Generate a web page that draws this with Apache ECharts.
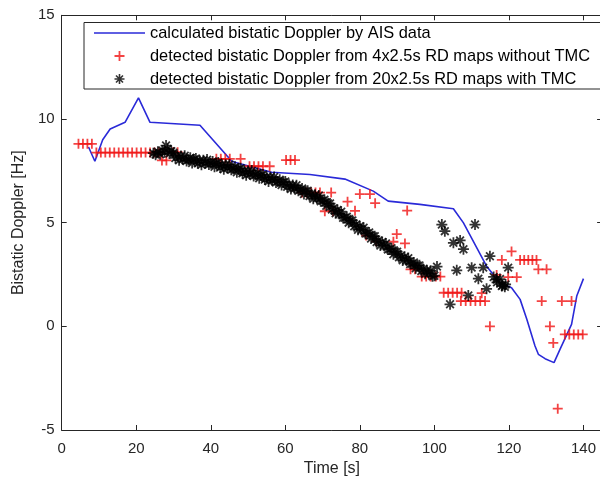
<!DOCTYPE html>
<html>
<head>
<meta charset="utf-8">
<script src="https://cdn.jsdelivr.net/npm/echarts@6/dist/echarts.min.js"></script>
<style>html,body{margin:0;padding:0;background:#fff}#c{width:600px;height:480px}</style>
</head>
<body>
<div id="c"></div>
<script>
// ---- data (time [s], bistatic Doppler [Hz]) ----
var xTicks = [0, 20, 40, 60, 80, 100, 120, 140];
var yTicks = [-5, 0, 5, 10, 15];

var aisLine = [
  [7.2, 8.65], [8.9, 7.96], [11.0, 9.0], [13.0, 9.52], [17.0, 9.84], [20.6, 11.02],
  [23.7, 9.84], [37.1, 9.70], [45.7, 7.95], [56.3, 7.43], [66.6, 7.32], [76.0, 7.1],
  [83.6, 6.52], [87.6, 6.04], [96.1, 5.88], [105.1, 5.67], [107.8, 4.99], [114.0, 2.90],
  [117.6, 2.10], [120.7, 1.86], [123.0, 1.30], [124.8, 0.34], [127.0, -0.95], [127.9, -1.35],
  [129.7, -1.56], [132.1, -1.75], [133.7, -1.11], [136.8, 0.09], [138.2, 1.46], [140.0, 2.30]
];

var redNoTMC = [
  [4.5, 8.8], [5.7, 8.8], [6.9, 8.8], [8.1, 8.8],
  [9.3, 8.38], [10.5, 8.38], [11.7, 8.38], [12.9, 8.38], [14.1, 8.38], [15.3, 8.38],
  [16.5, 8.38], [17.7, 8.38], [18.9, 8.38], [20.1, 8.38], [21.3, 8.38], [22.5, 8.38],
  [23.7, 8.38], [24.9, 8.38], [26.1, 8.38], [29.9, 8.4], [31.1, 8.4],
  [26.9, 8.0], [28.1, 8.0],
  [41.5, 8.08], [42.7, 8.08], [43.9, 8.08], [45.1, 8.08], [48.0, 8.08],
  [50.4, 7.72], [51.6, 7.72], [52.8, 7.72], [54.0, 7.72], [55.8, 7.72],
  [60.2, 8.02], [61.4, 8.02], [62.6, 8.02],
  [64.5, 6.45], [65.7, 6.45], [66.9, 6.45], [68.1, 6.45], [69.3, 6.45], [72.3, 6.45],
  [70.6, 5.55], [72.8, 5.55], [76.7, 6.01], [78.7, 5.57], [80.0, 6.38], [82.7, 6.38],
  [84.1, 5.94], [92.7, 5.58], [81.7, 4.38], [84.4, 4.1],
  [89.9, 4.45], [89.0, 4.08], [92.1, 4.0],
  [93.6, 2.75], [94.8, 2.75], [96.6, 2.40], [97.8, 2.40], [99.0, 2.40], [100.4, 2.40], [101.6, 2.40],
  [102.5, 1.62], [103.7, 1.62], [104.9, 1.62], [106.1, 1.62], [107.3, 1.62], [112.7, 1.6],
  [107.1, 1.22], [108.4, 1.22], [109.7, 1.22], [111.0, 1.22], [112.3, 1.22], [113.6, 1.22],
  [114.9, 0.0], [116.7, 2.48], [118.1, 3.2], [120.7, 3.61],
  [123.0, 3.2], [124.1, 3.2], [125.2, 3.2], [126.3, 3.2], [127.4, 3.2],
  [127.9, 2.75], [130.1, 2.75], [119.8, 2.37], [122.1, 2.37],
  [128.8, 1.22], [134.2, 1.22], [136.8, 1.22], [131.0, 0.0], [131.9, -0.8],
  [135.0, -0.39], [136.2, -0.39], [137.4, -0.39], [138.6, -0.39], [139.8, -0.39],
  [133.1, -3.97]
];

var blackTMC = [
  [24.6, 8.35], [25.2, 8.28], [25.8, 8.42], [26.4, 8.30], [27.0, 8.48], [27.6, 8.40],
  [28.0, 8.72], [28.4, 8.55], [28.9, 8.33], [29.4, 8.45],
  [30, 8.37], [30.5, 8.12], [31, 8.23], [31.5, 8.01], [32, 8.21], [32.5, 8.07], [33, 8.23], [33.5, 7.97],
  [34, 8.03], [34.5, 8.13], [35, 7.88], [35.5, 8.05], [36, 8.09], [36.5, 7.86], [37, 7.99], [37.5, 7.79],
  [38, 8.01], [38.5, 7.88], [39, 8.04], [39.5, 7.80], [40, 7.86], [40.5, 7.95], [41, 7.70], [41.5, 7.86],
  [42, 7.90], [42.5, 7.66], [43, 7.78], [43.5, 7.58], [44, 7.79], [44.5, 7.65], [45, 7.80], [45.5, 7.55],
  [46, 7.60], [46.5, 7.69], [47, 7.43], [47.5, 7.59], [48, 7.62], [48.5, 7.38], [49, 7.49], [49.5, 7.29],
  [50, 7.49], [50.5, 7.35], [51, 7.51], [51.5, 7.25], [52, 7.31], [52.5, 7.39], [53, 7.14], [53.5, 7.29],
  [54, 7.32], [54.5, 7.08], [55, 7.19], [55.5, 6.99], [56, 7.19], [56.5, 7.04], [57, 7.20], [57.5, 6.94],
  [58, 6.99], [58.5, 7.07], [59, 6.81], [59.5, 6.95], [60, 6.98], [60.5, 6.73], [61, 6.83], [61.5, 6.62],
  [62, 6.81], [62.5, 6.66], [63, 6.80], [63.5, 6.54], [64, 6.58], [64.5, 6.65], [65, 6.38], [65.5, 6.52],
  [66, 6.54], [66.5, 6.28], [67, 6.38], [67.5, 6.15], [68, 6.34], [68.5, 6.17], [69, 6.31], [69.5, 6.03],
  [70, 6.06], [70.5, 6.11], [71, 5.81], [71.5, 5.93], [72, 5.92], [72.5, 5.63], [73, 5.70], [73.5, 5.45],
  [74, 5.61], [74.5, 5.42], [75, 5.53], [75.5, 5.23], [76, 5.24], [76.5, 5.29], [77, 5.00], [77.5, 5.11],
  [78, 5.11], [78.5, 4.83], [79, 4.91], [79.5, 4.66], [80, 4.83], [80.5, 4.65], [81, 4.76], [81.5, 4.47],
  [82, 4.48], [82.5, 4.53], [83, 4.23], [83.5, 4.35], [84, 4.34], [84.5, 4.06], [85, 4.14], [85.5, 3.90],
  [86, 4.07], [86.5, 3.89], [87, 4.00], [87.5, 3.71], [88, 3.72], [88.5, 3.77], [89, 3.48], [89.5, 3.60],
  [90, 3.60], [90.5, 3.33], [91, 3.41], [91.5, 3.18], [92, 3.35], [92.5, 3.17], [93, 3.29], [93.5, 3.00],
  [94, 3.02], [94.5, 3.08], [95, 2.80], [95.5, 2.93], [96, 2.94], [96.5, 2.67], [97, 2.76], [97.5, 2.53],
  [98, 2.71], [98.5, 2.55], [99, 2.68], [99.5, 2.41], [100, 2.44],
  [100.7, 2.88], [102.0, 4.91], [102.8, 4.59], [110.9, 4.91], [105.1, 4.03], [106.9, 4.14],
  [107.8, 3.72], [114.9, 3.38], [119.8, 2.83], [106.0, 2.70], [110.0, 2.83], [113.1, 2.83],
  [111.8, 2.30], [116.7, 2.26], [118.1, 1.94], [118.9, 1.91], [114.0, 1.81], [109.1, 1.49],
  [104.2, 1.06], [115.9, 2.38], [116.8, 2.12], [117.6, 2.28], [118.3, 1.98], [119.1, 2.02]
];

var seriesNames = [
  'calculated bistatic Doppler by AIS data',
  'detected bistatic Doppler from 4x2.5s RD maps without TMC',
  'detected bistatic Doppler from 20x2.5s RD maps with TMC'
];

// ---- chart ----
var FONT = '"Liberation Sans", Arial, Helvetica, sans-serif';
var AX = '#262626';
var BLUE = '#2a2ad8';
var plusPath = 'path://M4.1,0H5.9V4.1H10V5.9H5.9V10H4.1V5.9H0V4.1H4.1Z';
var starPath = 'path://M0,4.2H10V5.8H0Z M4.2,0H5.8V10H4.2Z ' +
  'M2.07,0.93L9.07,7.93L7.93,9.07L0.93,2.07Z M9.07,2.07L2.07,9.07L0.93,7.93L7.93,0.93Z';
var lineIcon = 'path://M0,0H51V1.6H0Z';

var chart = echarts.init(document.getElementById('c'), null, {renderer: 'canvas'});

function xAxisCfg(pos, showLabel) {
  return {
    type: 'value', position: pos, min: 0, max: 145, interval: 20,
    axisLine: {show: true, onZero: false, lineStyle: {color: AX, width: 1}},
    axisTick: {show: true, inside: true, length: 5, lineStyle: {color: AX}},
    axisLabel: {show: showLabel, fontSize: 15, color: AX, fontFamily: FONT, margin: 11, showMaxLabel: false},
    splitLine: {show: false},
    name: showLabel ? 'Time [s]' : '', nameLocation: 'middle', nameGap: 30,
    nameTextStyle: {fontSize: 16, color: AX, fontFamily: FONT}
  };
}
function yAxisCfg(pos, showLabel) {
  return {
    type: 'value', position: pos, min: -5, max: 15, interval: 5,
    axisLine: {show: true, onZero: false, lineStyle: {color: AX, width: 1}},
    axisTick: {show: true, inside: true, length: 5, lineStyle: {color: AX}},
    axisLabel: {show: showLabel, fontSize: 15, color: AX, fontFamily: FONT, margin: 7},
    splitLine: {show: false},
    name: showLabel ? 'Bistatic Doppler [Hz]' : '', nameLocation: 'middle', nameGap: 35,
    nameTextStyle: {fontSize: 16, color: AX, fontFamily: FONT}
  };
}

chart.setOption({
  animation: false,
  backgroundColor: '#fff',
  grid: {left: 61.7, right: -2.1, top: 15.3, bottom: 50, containLabel: false, outerBoundsMode: 'none'},
  xAxis: [xAxisCfg('bottom', true), xAxisCfg('top', false)],
  yAxis: [yAxisCfg('left', true), yAxisCfg('right', false)],
  legend: {
    orient: 'vertical', left: 84, top: 22.5,
    itemWidth: 51, itemHeight: 10, itemGap: 7,
    padding: [2.5, 22, 2, 10],
    borderColor: AX, borderWidth: 1, backgroundColor: '#fff',
    textStyle: {fontSize: 16.4, lineHeight: 16, color: '#000', fontFamily: FONT},
    data: [
      {name: seriesNames[0], icon: lineIcon},
      {name: seriesNames[1]},
      {name: seriesNames[2]}
    ]
  },
  series: [
    {
      name: seriesNames[0], type: 'line', data: aisLine,
      showSymbol: false, symbol: 'none', color: BLUE,
      itemStyle: {color: BLUE},
      lineStyle: {color: BLUE, width: 1.6}, z: 2
    },
    {
      name: seriesNames[1], type: 'scatter', data: redNoTMC,
      symbol: plusPath, symbolSize: 10, color: '#f01414',
      itemStyle: {color: '#f01414'}, z: 3
    },
    {
      name: seriesNames[2], type: 'scatter', data: blackTMC,
      symbol: starPath, symbolSize: 11, color: '#000',
      itemStyle: {color: '#000'}, z: 4
    }
  ]
});
</script>
</body>
</html>
